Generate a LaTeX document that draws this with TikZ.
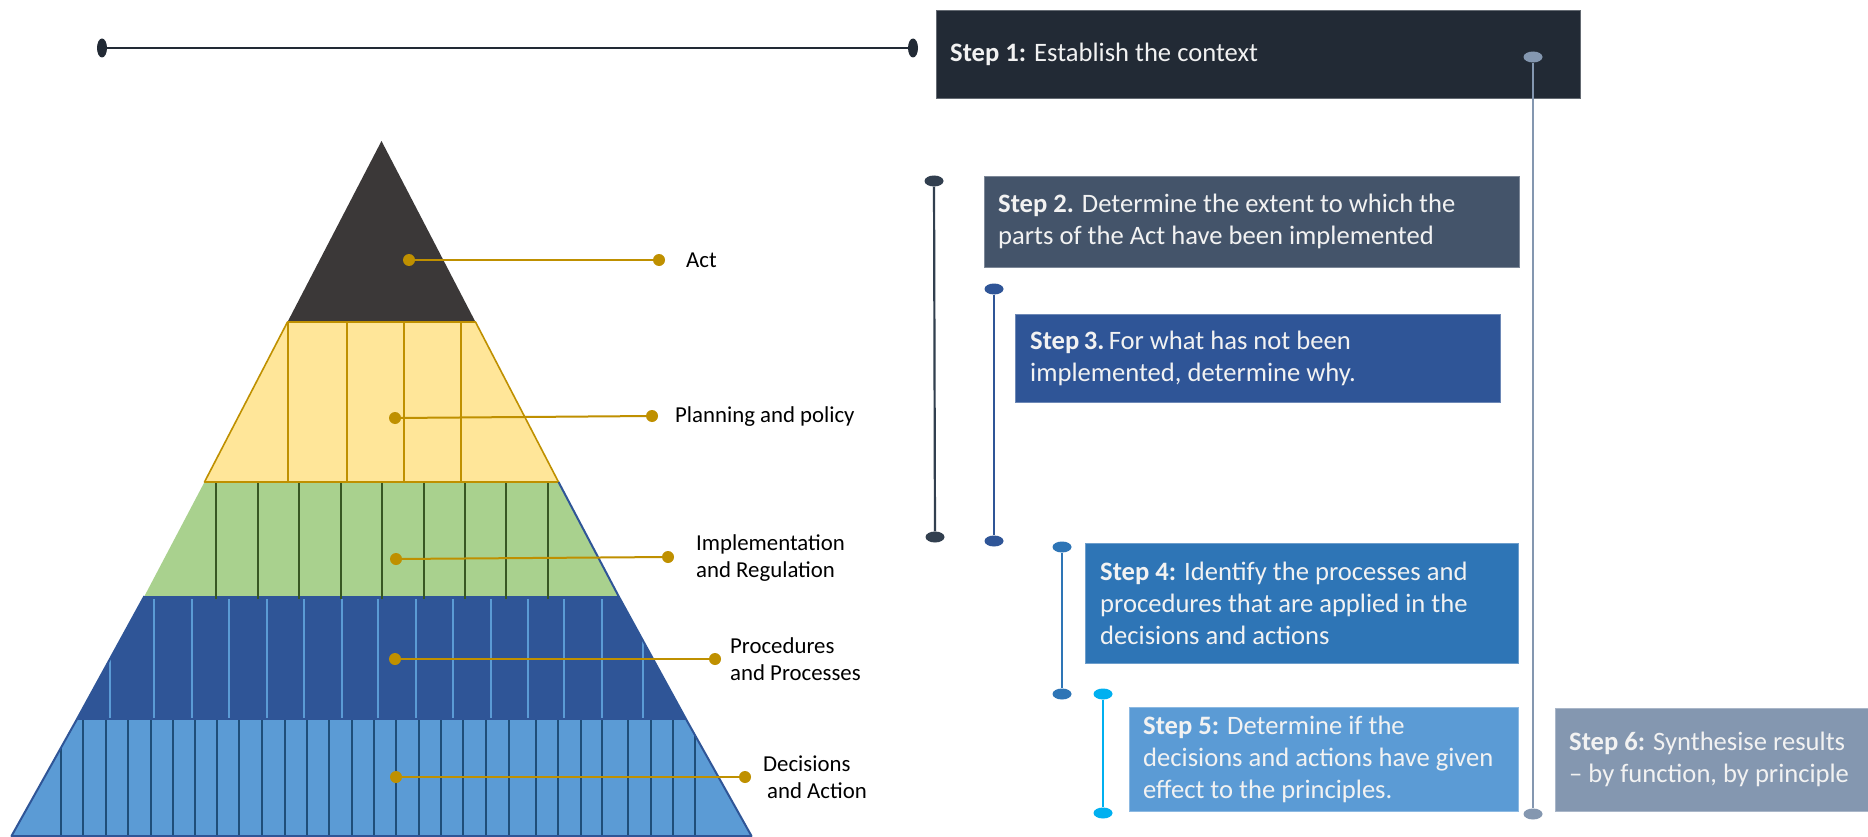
\documentclass[tikz,border=0pt]{standalone}
\usepackage{fontspec}
\setmainfont{Carlito}
\usetikzlibrary{shapes.geometric}

\definecolor{navy}{HTML}{222A35}
\definecolor{slate}{HTML}{44546A}
\definecolor{slateline}{HTML}{323F4F}
\definecolor{royal}{HTML}{2F5597}
\definecolor{midblue}{HTML}{2E75B6}
\definecolor{skyblue}{HTML}{5B9BD5}
\definecolor{cyanline}{HTML}{00B0F0}
\definecolor{greyblue}{HTML}{8497B0}
\definecolor{actgrey}{HTML}{3B3838}
\definecolor{paleyellow}{HTML}{FFE699}
\definecolor{gold}{HTML}{BF9000}
\definecolor{palegreen}{HTML}{A9D18E}
\definecolor{darkgreen}{HTML}{385723}
\definecolor{deepblue}{HTML}{1F4E79}
\definecolor{boxtext}{HTML}{F2F2F2}

\tikzset{
  stepbox/.style={rectangle, anchor=north west, inner sep=0pt, fill=#1, draw=#1!70!white, line width=0.8pt},
  steptext/.style={anchor=west, align=left, inner sep=0pt, text=boxtext, font=\fontsize{26.6}{32}\selectfont},
  layerlabel/.style={anchor=west, align=left, inner sep=0pt, text=black, font=\fontsize{22.8}{27}\selectfont},
  hdot/.style={ellipse, minimum width=19pt, minimum height=11pt, inner sep=0pt, fill=#1},
  vdot/.style={ellipse, minimum width=10pt, minimum height=19pt, inner sep=0pt, fill=#1},
  golddot/.style={circle, minimum size=12pt, inner sep=0pt, fill=gold},
  leader/.style={draw=gold, line width=2pt},
  stem/.style={draw=#1, line width=2.2pt},
}

\begin{document}
\begin{tikzpicture}[x=1pt, y=-1pt]
  % canvas
  \fill[white] (0,0) rectangle (1868,837);
  \useasboundingbox (0,0) rectangle (1868,837);

  % ---------------- pyramid ----------------
  \coordinate (p0) at (381.5,141);
  \coordinate (l1) at (287.5,322);  \coordinate (r1) at (475.5,322);
  \coordinate (l2) at (204.5,482);  \coordinate (r2) at (558.5,482);
  \coordinate (l3) at (144.5,596);  \coordinate (r3) at (618.5,596);
  \coordinate (l4) at (76.5,720);   \coordinate (r4) at (686.5,720);
  \coordinate (l5) at (11.5,836);   \coordinate (r5) at (751.5,836);

  \fill[actgrey]    (p0) -- (r1) -- (l1) -- cycle;
  \fill[paleyellow] (l1) -- (r1) -- (r2) -- (l2) -- cycle;
  \fill[palegreen]  (l2) -- (r2) -- (r3) -- (l3) -- cycle;
  \fill[royal]      (l3) -- (r3) -- (r4) -- (l4) -- cycle;
  \fill[skyblue]    (l4) -- (r4) -- (r5) -- (l5) -- cycle;

  % planning and policy layer
  \foreach \x in {288,347,404,461}
    \draw[gold, line width=2pt] (\x,322) -- (\x,481);
  \draw[gold, line width=1.6pt, line join=round] (l1) -- (r1) -- (r2) -- (l2) -- cycle;

  % implementation layer
  \foreach \x in {216,258,299,341,382,424,465,506,548}
    \draw[darkgreen, line width=2pt] (\x,483) -- (\x,599);

  % procedures layer
  \begin{scope}
    \clip (l3) -- (r3) -- (r4) -- (l4) -- cycle;
    \foreach \x in {110,154,192,229,267,304,342,378,416,453,491,528,564,602,643}
      \draw[skyblue, line width=2pt] (\x,599) -- (\x,718);
  \end{scope}

  % decisions layer
  \begin{scope}
    \clip (l4) -- (r4) -- (r5) -- (l5) -- cycle;
    \foreach \x in {61,83,106,128,151,173,195,217,239,262,285,307,329,352,374,396,419,441,463,486,509,536,558,581,602,628,651,673,695}
      \draw[deepblue, line width=2pt] (\x,720) -- (\x,836);
  \end{scope}

  % lower outline
  \draw[royal, line width=2pt, line join=round] (l3) -- (l4) -- (l5) -- (r5) -- (r4) -- (r3) -- (r2);

  % ---------------- layer labels ----------------
  \node[golddot] (actA) at (409,260) {};
  \node[golddot] (actB) at (659,260) {};
  \draw[leader] (actA) -- (actB);
  \node[layerlabel] (actL) at (686,260) {Act};

  \node[golddot] (planA) at (395,418) {};
  \node[golddot] (planB) at (652,416) {};
  \draw[leader] (planA) -- (planB);
  \node[layerlabel] (planL) at (675,417) {Planning and policy};

  \node[golddot] (implA) at (396,559) {};
  \node[golddot] (implB) at (668,557) {};
  \draw[leader] (implA) -- (implB);
  \node[layerlabel] (implL) at (696,558.5) {Implementation\\and Regulation};

  \node[golddot] (procA) at (395,659) {};
  \node[golddot] (procB) at (715,659) {};
  \draw[leader] (procA) -- (procB);
  \node[layerlabel] (procL) at (730,659) {Procedures\\and Processes};

  \node[golddot] (decA) at (396,777) {};
  \node[golddot] (decB) at (745,777) {};
  \draw[leader] (decA) -- (decB);
  \node[layerlabel] (decL) at (763,777) {Decisions\\\hspace*{4pt}and Action};

  % ---------------- step boxes ----------------
  \node[stepbox=navy,     minimum width=644pt, minimum height=88pt]  (s1) at (936,10)  {};
  \node[stepbox=slate,    minimum width=535pt, minimum height=91pt]  (s2) at (984,176) {};
  \node[stepbox=royal,    minimum width=485pt, minimum height=88pt]  (s3) at (1015,314) {};
  \node[stepbox=midblue,  minimum width=433pt, minimum height=120pt] (s4) at (1085,543) {};
  \node[stepbox=skyblue,  minimum width=389pt, minimum height=104pt] (s5) at (1129,707) {};
  \node[stepbox=greyblue, minimum width=313pt, minimum height=103pt] (s6) at (1555,708) {};

  \node[steptext, xshift=14pt] (t1) at (s1.west) {\textbf{Step 1:} Establish the context};
  \node[steptext, xshift=14pt] (t2) at (s2.west) {\textbf{Step 2.} Determine the extent to which the\\parts of the Act have been implemented};
  \node[steptext, xshift=15pt] (t3) at (s3.west) {\textbf{Step\,3.}\,For what has not been\\implemented, determine why.};
  \node[steptext, xshift=15pt] (t4) at (s4.west) {\textbf{Step 4:} Identify the processes and\\procedures that are applied in the\\decisions and actions};
  \node[steptext, xshift=14pt] (t5) at (s5.west) {\textbf{Step 5:} Determine if the\\decisions and actions have given\\effect to the principles.};
  \node[steptext, xshift=14pt] (t6) at (s6.west) {\textbf{Step 6:} Synthesise results\\– by function, by principle};

  % ---------------- timeline connectors ----------------
  % step 1: horizontal bar
  \node[vdot=navy] (h1a) at (102,48) {};
  \node[vdot=navy] (h1b) at (913,48) {};
  \draw[stem=navy] (h1a) -- (h1b);

  % step 2
  \node[hdot=slateline] (c2a) at (934,181) {};
  \node[hdot=slateline] (c2b) at (935,537) {};
  \draw[stem=slateline] (c2a) -- (c2b);

  % step 3
  \node[hdot=royal] (c3a) at (994,289) {};
  \node[hdot=royal] (c3b) at (994,541) {};
  \draw[stem=royal] (c3a) -- (c3b);

  % step 4
  \node[hdot=midblue] (c4a) at (1062,547) {};
  \node[hdot=midblue] (c4b) at (1062,694) {};
  \draw[stem=midblue] (c4a) -- (c4b);

  % step 5
  \node[hdot=cyanline] (c5a) at (1103,694) {};
  \node[hdot=cyanline] (c5b) at (1103,813) {};
  \draw[stem=cyanline] (c5a) -- (c5b);

  % step 6
  \node[hdot=greyblue] (c6a) at (1533,57) {};
  \node[hdot=greyblue] (c6b) at (1533,814) {};
  \draw[stem=greyblue] (c6a) -- (c6b);
\end{tikzpicture}
\end{document}
